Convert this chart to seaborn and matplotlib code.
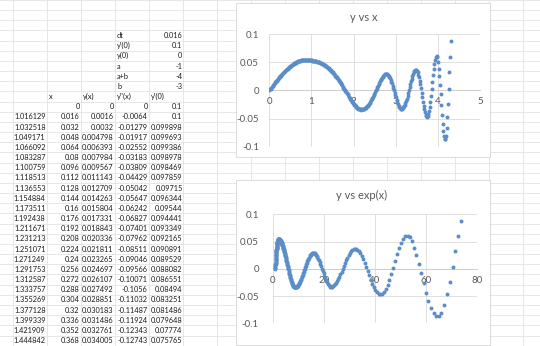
import matplotlib
matplotlib.use("Agg")
import matplotlib.pyplot as plt
import seaborn as sns
import pandas as pd
from matplotlib.patches import Rectangle

# ---------------- spreadsheet content ----------------
param_labels = ["dt", "y'(0)", "y(0)", "a", "a+b", "b"]
param_values = [0.016, 0.1, 0, -1, -4, -3]
headers = ["x", "y(x)", "y''(x)", "y'(0)"]

x_col = [1.016129, 1.032518, 1.049171, 1.066092, 1.083287, 1.100759, 1.118513,
         1.136553, 1.154884, 1.173511, 1.192438, 1.211671, 1.231213, 1.251071,
         1.271249, 1.291753, 1.312587, 1.333757, 1.355269, 1.377128, 1.399339,
         1.421909, 1.444842]
ypp_col = [0, -0.0064, -0.01279, -0.01917, -0.02552, -0.03183, -0.03809, -0.04429,
           -0.05042, -0.05647, -0.06242, -0.06827, -0.07401, -0.07962, -0.08511,
           -0.09046, -0.09566, -0.10071, -0.1056, -0.11032, -0.11487, -0.11924,
           -0.12343, -0.12743]
yp_col = [0.1, 0.1, 0.099898, 0.099693, 0.099386, 0.098978, 0.098469, 0.097859,
          0.09715, 0.096344, 0.09544, 0.094441, 0.093349, 0.092165, 0.090891,
          0.089529, 0.088082, 0.086551, 0.08494, 0.083251, 0.081486, 0.079648,
          0.07774, 0.075765]

# ---------------- chart series ----------------
t_vals = [
    0, 0.016, 0.032, 0.048, 0.064, 0.08, 0.096, 0.112, 0.128, 0.144,
    0.16, 0.176, 0.192, 0.208, 0.224, 0.24, 0.256, 0.272, 0.288, 0.304,
    0.32, 0.336, 0.352, 0.368, 0.384, 0.4, 0.416, 0.432, 0.448, 0.464,
    0.48, 0.496, 0.512, 0.528, 0.544, 0.56, 0.576, 0.592, 0.608, 0.624,
    0.64, 0.656, 0.672, 0.688, 0.704, 0.72, 0.736, 0.752, 0.768, 0.784,
    0.8, 0.816, 0.832, 0.848, 0.864, 0.88, 0.896, 0.912, 0.928, 0.944,
    0.96, 0.976, 0.992, 1.008, 1.024, 1.04, 1.056, 1.072, 1.088, 1.104,
    1.12, 1.136, 1.152, 1.168, 1.184, 1.2, 1.216, 1.232, 1.248, 1.264,
    1.28, 1.296, 1.312, 1.328, 1.344, 1.36, 1.376, 1.392, 1.408, 1.424,
    1.44, 1.456, 1.472, 1.488, 1.504, 1.52, 1.536, 1.552, 1.568, 1.584,
    1.6, 1.616, 1.632, 1.648, 1.664, 1.68, 1.696, 1.712, 1.728, 1.744,
    1.76, 1.776, 1.792, 1.808, 1.824, 1.84, 1.856, 1.872, 1.888, 1.904,
    1.92, 1.936, 1.952, 1.968, 1.984, 2.0, 2.016, 2.032, 2.048, 2.064,
    2.08, 2.096, 2.112, 2.128, 2.144, 2.16, 2.176, 2.192, 2.208, 2.224,
    2.24, 2.256, 2.272, 2.288, 2.304, 2.32, 2.336, 2.352, 2.368, 2.384,
    2.4, 2.416, 2.432, 2.448, 2.464, 2.48, 2.496, 2.512, 2.528, 2.544,
    2.56, 2.576, 2.592, 2.608, 2.624, 2.64, 2.656, 2.672, 2.688, 2.704,
    2.72, 2.736, 2.752, 2.768, 2.784, 2.8, 2.816, 2.832, 2.848, 2.864,
    2.88, 2.896, 2.912, 2.928, 2.944, 2.96, 2.976, 2.992, 3.008, 3.024,
    3.04, 3.056, 3.072, 3.088, 3.104, 3.12, 3.136, 3.152, 3.168, 3.184,
    3.2, 3.216, 3.232, 3.248, 3.264, 3.28, 3.296, 3.312, 3.328, 3.344,
    3.36, 3.376, 3.392, 3.408, 3.424, 3.44, 3.456, 3.472, 3.488, 3.504,
    3.52, 3.536, 3.552, 3.568, 3.584, 3.6, 3.616, 3.632, 3.648, 3.664,
    3.68, 3.696, 3.712, 3.728, 3.744, 3.76, 3.776, 3.792, 3.808, 3.824,
    3.84, 3.856, 3.872, 3.888, 3.904, 3.92, 3.936, 3.952, 3.968, 3.984,
    4.0, 4.016, 4.032, 4.048, 4.064, 4.08, 4.096, 4.112, 4.128, 4.144,
    4.16, 4.176, 4.192, 4.208, 4.224, 4.24, 4.256, 4.272, 4.288, 4.304]

exp_vals = [
    1.0, 1.016129, 1.032518, 1.049171, 1.066092, 1.083287, 1.100759, 1.118513,
    1.136553, 1.154884, 1.173511, 1.192438, 1.211671, 1.231213, 1.251071,
    1.271249, 1.291753, 1.312587, 1.333757, 1.355269, 1.377128, 1.399339,
    1.421909, 1.444842, 1.468, 1.492, 1.516, 1.540, 1.565, 1.590,
    1.616, 1.642, 1.669, 1.696, 1.723, 1.751, 1.779, 1.808, 1.837, 1.866,
    1.897, 1.927, 1.958, 1.990, 2.022, 2.054, 2.088, 2.121, 2.156, 2.190,
    2.226, 2.261, 2.298, 2.335, 2.373, 2.411, 2.450, 2.489, 2.530, 2.570,
    2.612, 2.654, 2.697, 2.740, 2.784, 2.829, 2.875, 2.921, 2.968, 3.016,
    3.065, 3.114, 3.165, 3.216, 3.267, 3.320, 3.374, 3.428, 3.483, 3.540,
    3.597, 3.655, 3.714, 3.774, 3.834, 3.896, 3.959, 4.023, 4.088, 4.154,
    4.221, 4.289, 4.358, 4.428, 4.500, 4.572, 4.646, 4.721, 4.797, 4.874,
    4.953, 5.033, 5.114, 5.197, 5.280, 5.366, 5.452, 5.540, 5.629, 5.720,
    5.812, 5.906, 6.001, 6.098, 6.197, 6.297, 6.398, 6.501, 6.606, 6.713,
    6.821, 6.931, 7.043, 7.156, 7.272, 7.389, 7.508, 7.629, 7.752, 7.878,
    8.005, 8.134, 8.265, 8.398, 8.534, 8.671, 8.811, 8.953, 9.097, 9.244,
    9.393, 9.545, 9.699, 9.855, 10.014, 10.176, 10.340, 10.507, 10.676, 10.848,
    11.023, 11.201, 11.382, 11.565, 11.752, 11.941, 12.134, 12.329, 12.528, 12.730,
    12.936, 13.144, 13.356, 13.572, 13.791, 14.013, 14.239, 14.469, 14.702, 14.939,
    15.180, 15.425, 15.674, 15.927, 16.184, 16.445, 16.710, 16.980, 17.254, 17.532,
    17.815, 18.102, 18.394, 18.691, 18.992, 19.299, 19.610, 19.926, 20.248, 20.574,
    20.906, 21.243, 21.586, 21.934, 22.288, 22.647, 23.012, 23.383, 23.760, 24.144,
    24.533, 24.929, 25.331, 25.740, 26.155, 26.577, 27.006, 27.441, 27.884, 28.334,
    28.791, 29.255, 29.727, 30.207, 30.694, 31.189, 31.692, 32.204, 32.723, 33.251,
    33.787, 34.332, 34.886, 35.449, 36.021, 36.602, 37.192, 37.792, 38.401, 39.020,
    39.649, 40.289, 40.939, 41.599, 42.270, 42.952, 43.645, 44.349, 45.064, 45.791,
    46.530, 47.280, 48.043, 48.818, 49.605, 50.405, 51.218, 52.044, 52.884, 53.737,
    54.604, 55.485, 56.380, 57.289, 58.213, 59.152, 60.106, 61.076, 62.061, 63.062,
    64.079, 65.113, 66.163, 67.230, 68.315, 69.417, 70.536, 71.674, 72.830, 74.005]

y_vals = [
    0, 0.0016, 0.0032, 0.004798, 0.006393, 0.007984, 0.009567, 0.011143,
    0.012709, 0.014263, 0.015804, 0.017331, 0.018843, 0.020336, 0.021811,
    0.023265, 0.024697, 0.026107, 0.027492, 0.028851, 0.030183, 0.031486,
    0.032761, 0.034005, 0.0352, 0.0364, 0.0376, 0.0387, 0.0398, 0.0409,
    0.0419, 0.0429, 0.0439, 0.0448, 0.0457, 0.0465, 0.0473, 0.0480, 0.0488, 0.0494,
    0.0500, 0.0506, 0.0512, 0.0516, 0.0521, 0.0525, 0.0528, 0.0531, 0.0534, 0.0536,
    0.0538, 0.0539, 0.0540, 0.0540, 0.0540, 0.0540, 0.0539, 0.0539, 0.0538, 0.0537,
    0.0536, 0.0534, 0.0532, 0.0531, 0.0529, 0.0527, 0.0524, 0.0521, 0.0519, 0.0516,
    0.0513, 0.0509, 0.0504, 0.0500, 0.0495, 0.0491, 0.0485, 0.0479, 0.0472, 0.0466,
    0.0460, 0.0452, 0.0444, 0.0436, 0.0428, 0.0420, 0.0410, 0.0399, 0.0389, 0.0378,
    0.0368, 0.0355, 0.0343, 0.0330, 0.0318, 0.0305, 0.0290, 0.0275, 0.0260, 0.0245,
    0.0230, 0.0213, 0.0196, 0.0178, 0.0161, 0.0144, 0.0125, 0.0106, 0.0087, 0.0068,
    0.0049, 0.0029, 0.0009, -0.0011, -0.0031, -0.0051, -0.0071, -0.0091, -0.0110, -0.0130,
    -0.0150, -0.0168, -0.0186, -0.0204, -0.0222, -0.0240, -0.0253, -0.0267, -0.0280, -0.0294,
    -0.0307, -0.0316, -0.0324, -0.0331, -0.0336, -0.0339, -0.0340, -0.0339, -0.0338, -0.0334,
    -0.0330, -0.0324, -0.0316, -0.0307, -0.0296, -0.0284, -0.0271, -0.0256, -0.0239, -0.0221,
    -0.0201, -0.0180, -0.0158, -0.0134, -0.0110, -0.0084, -0.0057, -0.0031, -0.0002, 0.0025,
    0.0053, 0.0081, 0.0108, 0.0135, 0.0161, 0.0184, 0.0207, 0.0227, 0.0245, 0.0260,
    0.0273, 0.0282, 0.0288, 0.0290, 0.0288, 0.0282, 0.0271, 0.0257, 0.0238, 0.0215,
    0.0187, 0.0156, 0.0122, 0.0085, 0.0045, 0.0003, -0.0039, -0.0082, -0.0125, -0.0166,
    -0.0204, -0.0240, -0.0270, -0.0295, -0.0314, -0.0326, -0.0330, -0.0327, -0.0319, -0.0304,
    -0.0284, -0.0258, -0.0226, -0.0189, -0.0147, -0.0101, -0.0052, 0.0000, 0.0053, 0.0106,
    0.0158, 0.0207, 0.0252, 0.0292, 0.0324, 0.0349, 0.0365, 0.0370, 0.0364, 0.0348,
    0.0320, 0.0281, 0.0231, 0.0173, 0.0105, 0.0033, -0.0044, -0.0122, -0.0199, -0.0272,
    -0.0337, -0.0392, -0.0434, -0.0461, -0.0470, -0.0459, -0.0426, -0.0371, -0.0296, -0.0202,
    -0.0094, 0.0023, 0.0144, 0.0264, 0.0375, 0.0471, 0.0546, 0.0593, 0.0610, 0.0585,
    0.0505, 0.0385, 0.0250, 0.0090, -0.0070, -0.0260, -0.0440, -0.0590, -0.0720, -0.0810,
    -0.0860, -0.0860, -0.0805, -0.0660, -0.0470, -0.0245, 0.0030, 0.0320, 0.0600, 0.0870]

assert len(t_vals) == len(exp_vals) == len(y_vals), (len(t_vals), len(exp_vals), len(y_vals))

df = pd.DataFrame({"t": t_vals, "ex": exp_vals, "y": y_vals})

# ---------------- styling ----------------
sns.set_style("white")
plt.rcParams["font.family"] = ["Lato", "DejaVu Sans"]

W, H = 540, 346
fig = plt.figure(figsize=(W / 100, H / 100), dpi=100)
fig.patch.set_facecolor("white")

bg = fig.add_axes([0, 0, 1, 1])
bg.set_xlim(0, W)
bg.set_ylim(H, 0)
bg.axis("off")

GRID = "#e3e3e3"
col_lines = [13.3 + 34 * k for k in range(16)]
row_lines = [30.4 + 10.17 * k for k in range(-3, 32)]
for xv in col_lines:
    bg.plot([xv, xv], [0, H], color=GRID, lw=0.6, zorder=1)
for yv in row_lines:
    bg.plot([0, W], [yv, yv], color=GRID, lw=0.6, zorder=1)


def fmt(v):
    if v == 0:
        return "0"
    return f"{v:.6f}".rstrip("0").rstrip(".")


def rc(k):
    return 35.5 + 10.17 * k


TXT = dict(fontsize=5.3, color="#1a1a1a", va="center", zorder=3)
# parameter block
for i, (lab, val) in enumerate(zip(param_labels, param_values)):
    bg.text(117, rc(i), lab, ha="left", **TXT)
    bg.text(182.5, rc(i), fmt(val), ha="right", **TXT)
# header
for xx, h in zip([49, 83, 117, 151], headers):
    bg.text(xx, rc(6), h, ha="left", **TXT)
# data rows
right_edges = [45.5, 79.5, 113.5, 147.5, 182.5]
for n in range(0, 24):
    yy = rc(7 + n)
    cells = ["" if n == 0 else fmt(x_col[n - 1]), fmt(t_vals[n]), fmt(y_vals[n]),
             fmt(ypp_col[n]), fmt(yp_col[n])]
    for xr, s in zip(right_edges, cells):
        if s:
            bg.text(xr, yy, s, ha="right", **TXT)

# chart boxes
for (x0, y0, w, h) in [(236, 3, 254, 154), (236, 180, 254, 165)]:
    bg.add_patch(Rectangle((x0, y0), w, h, facecolor="white", edgecolor="#d6d6d6",
                           lw=0.6, zorder=5))

TITLE = dict(fontsize=8, color="#595959", ha="center", va="center", zorder=6)
bg.text(363.3, 17.3, "y vs x", **TITLE)
bg.text(361.7, 195.7, "y vs exp(x)", **TITLE)

MARK = "#5B8DC6"


def make_ax(px0, px1, py0, py1):
    return fig.add_axes([px0 / W, (H - py1) / H, (px1 - px0) / W, (py1 - py0) / H])


def style(ax, xmax, xticks, ylab_pad):
    ax.set_axisbelow(True)
    ax.patch.set_visible(False)
    ax.set_xlim(0, xmax)
    ax.set_ylim(-0.1, 0.1)
    ax.set_xticks(xticks)
    ax.set_xticklabels([str(v) for v in xticks])
    ax.set_yticks([-0.1, -0.05, 0, 0.05, 0.1])
    ax.set_yticklabels(["-0.1", "-0.05", "0", "0.05", "0.1"])
    ax.grid(True, color="#dadada", lw=0.6)
    for s in ["top", "right", "left"]:
        ax.spines[s].set_visible(False)
    ax.spines["bottom"].set_position(("data", 0))
    ax.spines["bottom"].set_color("#cfcfcf")
    ax.spines["bottom"].set_linewidth(0.7)
    ax.tick_params(axis="both", length=0, labelsize=7, labelcolor="#595959")
    ax.tick_params(axis="x", pad=5)
    ax.tick_params(axis="y", pad=ylab_pad)
    ax.set_xlabel("")
    ax.set_ylabel("")


ax1 = make_ax(269.3, 480, 34, 146.7)
sns.scatterplot(data=df, x="t", y="y", ax=ax1, s=8, color=MARK, linewidth=0,
                legend=False, zorder=3)
style(ax1, 5, [0, 1, 2, 3, 4, 5], 7.4)

ax2 = make_ax(272.7, 476.7, 214.3, 323.3)
sns.scatterplot(data=df, x="ex", y="y", ax=ax2, s=8, color=MARK, linewidth=0,
                legend=False, zorder=3)
style(ax2, 80, [0, 20, 40, 60, 80], 9.9)

fig.savefig("out.png", dpi=100, facecolor="white")
